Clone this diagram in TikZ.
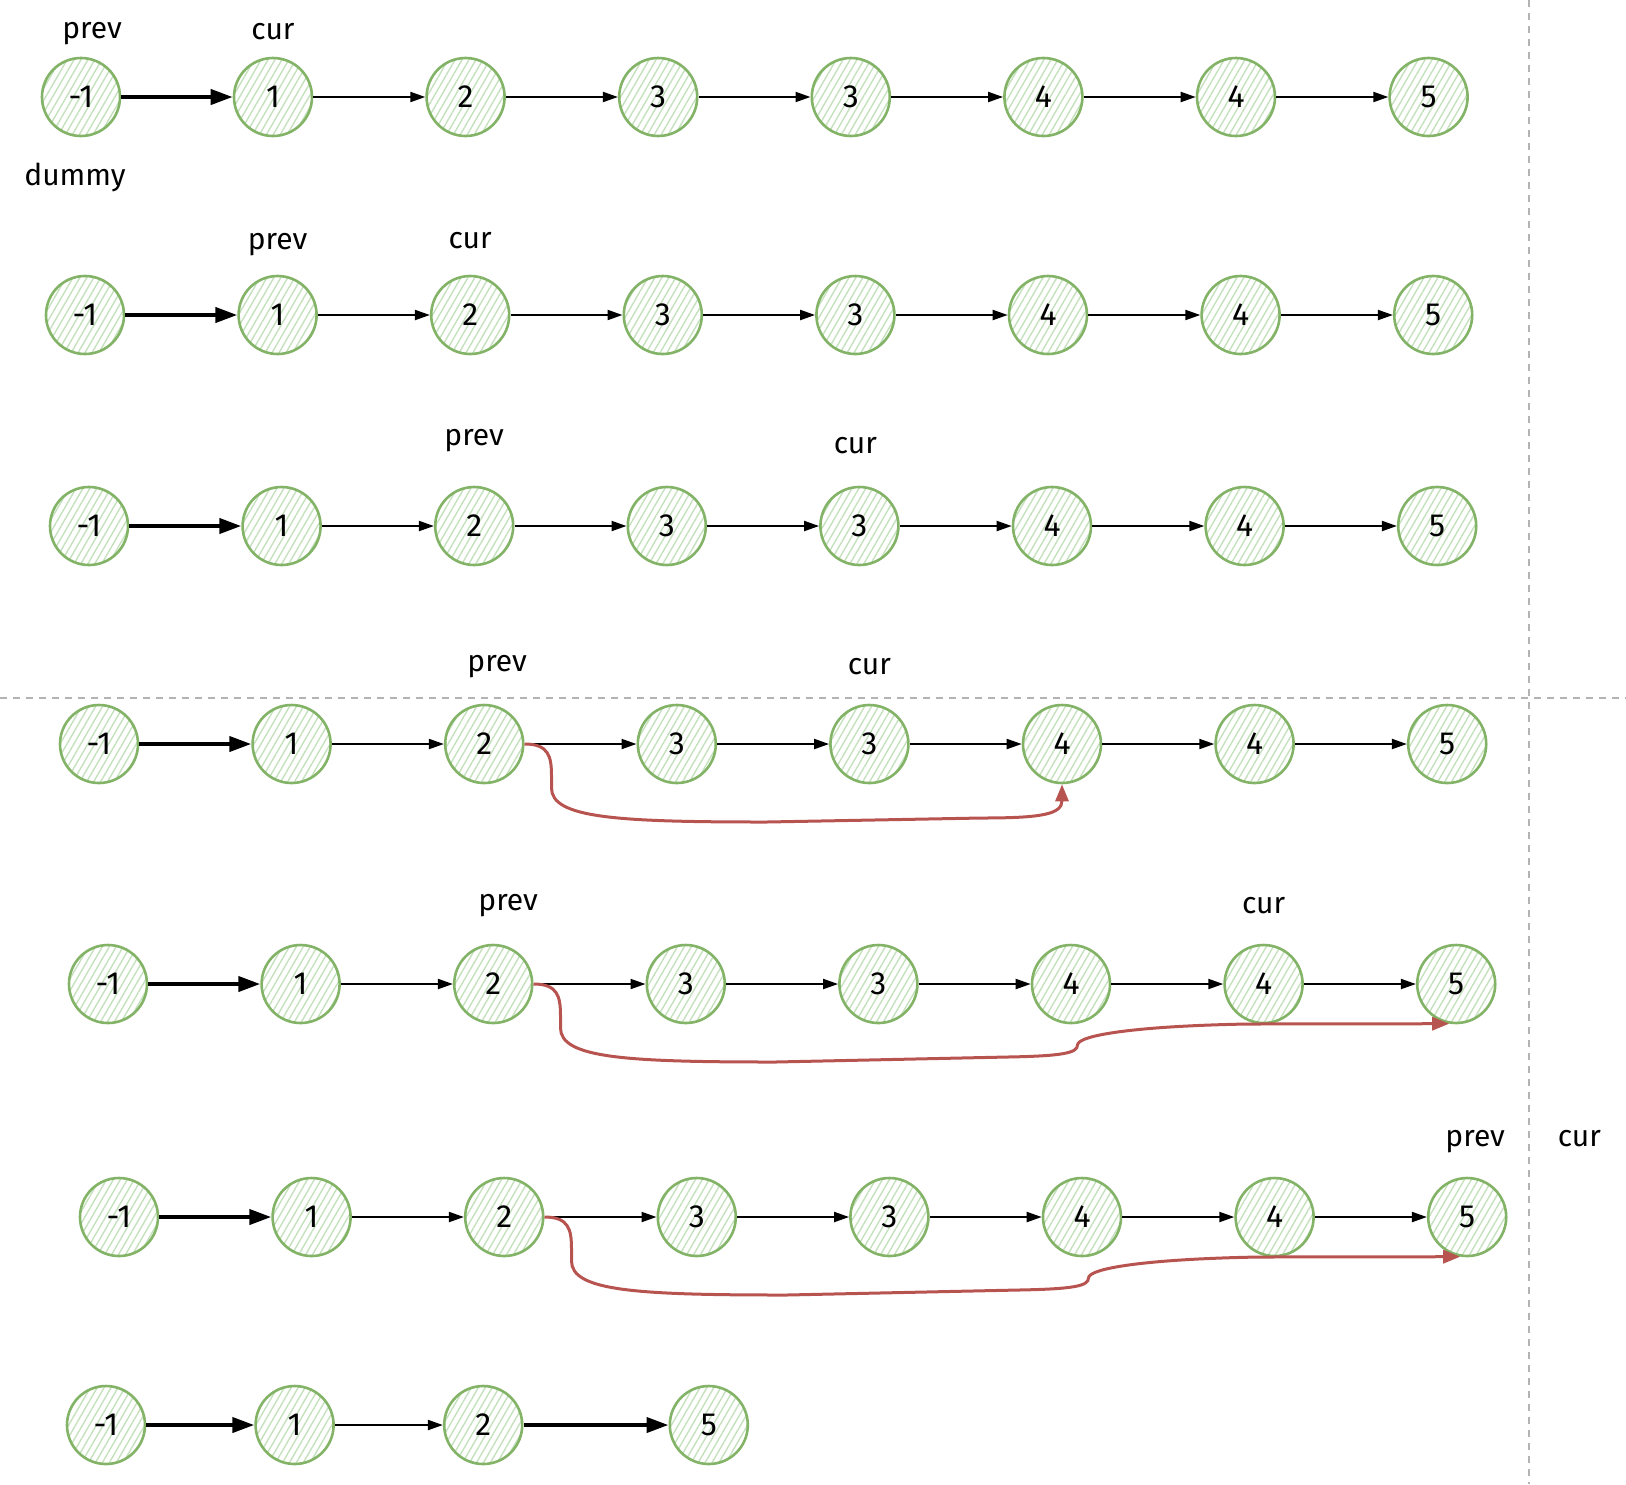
\documentclass[tikz,border=0pt]{standalone}
\usepackage{fontspec}
\setmainfont{Fira Sans}
\usetikzlibrary{positioning,arrows.meta,patterns.meta}
\definecolor{nodegreen}{HTML}{82B366}
\definecolor{hatchgreen}{HTML}{C4E0BD}
\definecolor{linkred}{HTML}{B85450}
\definecolor{sepgray}{HTML}{B3B3B3}

\begin{document}
\begin{tikzpicture}[x=0.5pt, y=-0.5pt, node distance=56pt,
		elem/.style={circle, draw=nodegreen, line width=1.3pt, minimum size=39pt, inner sep=0pt,
			pattern={Lines[angle=60, distance=3pt, line width=0.7pt]}, pattern color=hatchgreen,
			font=\fontsize{16}{16}\selectfont},
		tag/.style={inner sep=0pt, text height=1ex, text depth=0.45ex, font=\fontsize{15}{15}\selectfont},
		next/.style={-{Triangle[length=7.5pt, width=5pt]}, line width=1pt},
		head/.style={-{Triangle[length=11pt, width=7.5pt]}, line width=2pt},
		skip/.style={-{Triangle[length=8.5pt, width=6.5pt]}, draw=linkred, line width=1.5pt},
		sep/.style={draw=sepgray, line width=1pt, dash pattern=on 3.5pt off 3pt}]

		\useasboundingbox (0,0) rectangle (1626,1484);

		% separators
		\draw [sep] (0,698) -- (1626,698);
		\draw [sep] (1529,0) -- (1529,1484);

		% row 1
		\node [elem] (a1) at (81,97) {-1};
		\node [elem, right=of a1] (a2) {1};
		\node [elem, right=of a2] (a3) {2};
		\node [elem, right=of a3] (a4) {3};
		\node [elem, right=of a4] (a5) {3};
		\node [elem, right=of a5] (a6) {4};
		\node [elem, right=of a6] (a7) {4};
		\node [elem, right=of a7] (a8) {5};
		\node [tag, above=7pt of a1, xshift=5.5pt] (pv1) {prev};
		\node [tag, above=6pt of a2] (cr1) {cur};
		\node [tag, below=19pt of a1, xshift=-3pt] (dm) {dummy};
		\draw (a1) edge [head] (a2)
			(a2) edge [next] (a3) (a3) edge [next] (a4) (a4) edge [next] (a5)
			(a5) edge [next] (a6) (a6) edge [next] (a7) (a7) edge [next] (a8);

		% row 2
		\node [elem] (b1) at (85,315) {-1};
		\node [elem, right=of b1] (b2) {1};
		\node [elem, right=of b2] (b3) {2};
		\node [elem, right=of b3] (b4) {3};
		\node [elem, right=of b4] (b5) {3};
		\node [elem, right=of b5] (b6) {4};
		\node [elem, right=of b6] (b7) {4};
		\node [elem, right=of b7] (b8) {5};
		\node [tag, above=10pt of b2] (pv2) {prev};
		\node [tag, above=10.5pt of b3] (cr2) {cur};
		\draw (b1) edge [head] (b2)
			(b2) edge [next] (b3) (b3) edge [next] (b4) (b4) edge [next] (b5)
			(b5) edge [next] (b6) (b6) edge [next] (b7) (b7) edge [next] (b8);

		% row 3
		\node [elem] (c1) at (89,526) {-1};
		\node [elem, right=of c1] (c2) {1};
		\node [elem, right=of c2] (c3) {2};
		\node [elem, right=of c3] (c4) {3};
		\node [elem, right=of c4] (c5) {3};
		\node [elem, right=of c5] (c6) {4};
		\node [elem, right=of c6] (c7) {4};
		\node [elem, right=of c7] (c8) {5};
		\node [tag, above=17.5pt of c3] (pv3) {prev};
		\node [tag, above=13.5pt of c5, xshift=-2pt] (cr3) {cur};
		\draw (c1) edge [head] (c2)
			(c2) edge [next] (c3) (c3) edge [next] (c4) (c4) edge [next] (c5)
			(c5) edge [next] (c6) (c6) edge [next] (c7) (c7) edge [next] (c8);

		% row 4
		\node [elem] (d1) at (99,744) {-1};
		\node [elem, right=of d1] (d2) {1};
		\node [elem, right=of d2] (d3) {2};
		\node [elem, right=of d3] (d4) {3};
		\node [elem, right=of d4] (d5) {3};
		\node [elem, right=of d5] (d6) {4};
		\node [elem, right=of d6] (d7) {4};
		\node [elem, right=of d7] (d8) {5};
		\node [tag, above=13.5pt of d3, xshift=6.5pt] (pv4) {prev};
		\node [tag, above=12pt of d5] (cr4) {cur};
		\draw (d1) edge [head] (d2)
			(d2) edge [next] (d3) (d3) edge [next] (d4) (d4) edge [next] (d5)
			(d5) edge [next] (d6) (d6) edge [next] (d7) (d7) edge [next] (d8);
		\draw [skip] (d3.east) .. controls +(24,0) and +(0,-20) .. ++(27,32) -- ++(0,12)
			.. controls +(0,30) and +(-150,0) .. ++(215,34) -- ++(215,-4)
			.. controls +(60,0) and +(0,30) .. (d6.south);

		% row 5
		\node [elem] (e1) at (108,984) {-1};
		\node [elem, right=of e1] (e2) {1};
		\node [elem, right=of e2] (e3) {2};
		\node [elem, right=of e3] (e4) {3};
		\node [elem, right=of e4] (e5) {3};
		\node [elem, right=of e5] (e6) {4};
		\node [elem, right=of e6] (e7) {4};
		\node [elem, right=of e7] (e8) {5};
		\node [tag, above=14pt of e3, xshift=7.5pt] (pv5) {prev};
		\node [tag, above=12.5pt of e7] (cr5) {cur};
		\draw (e1) edge [head] (e2)
			(e2) edge [next] (e3) (e3) edge [next] (e4) (e4) edge [next] (e5)
			(e5) edge [next] (e6) (e6) edge [next] (e7) (e7) edge [next] (e8);
		\draw [skip] (e3.east) .. controls +(24,0) and +(0,-20) .. ++(27,32) -- ++(0,12)
			.. controls +(0,30) and +(-150,0) .. ++(215,34) -- ++(232,-5)
			.. controls +(55,-1) and +(0,8) .. ++(70,-12)
			.. controls +(0,-10) and +(-110,2) .. ++(170,-21) -- (e8.260);

		% row 6
		\node [elem] (f1) at (119,1217) {-1};
		\node [elem, right=of f1] (f2) {1};
		\node [elem, right=of f2] (f3) {2};
		\node [elem, right=of f3] (f4) {3};
		\node [elem, right=of f4] (f5) {3};
		\node [elem, right=of f5] (f6) {4};
		\node [elem, right=of f6] (f7) {4};
		\node [elem, right=of f7] (f8) {5};
		\node [tag, above=12.5pt of f8, xshift=4pt] (pv6) {prev};
		\node [tag, right=26pt of pv6] (cr6) {cur};
		\draw (f1) edge [head] (f2)
			(f2) edge [next] (f3) (f3) edge [next] (f4) (f4) edge [next] (f5)
			(f5) edge [next] (f6) (f6) edge [next] (f7) (f7) edge [next] (f8);
		\draw [skip] (f3.east) .. controls +(24,0) and +(0,-20) .. ++(27,32) -- ++(0,12)
			.. controls +(0,30) and +(-150,0) .. ++(215,34) -- ++(232,-5)
			.. controls +(55,-1) and +(0,8) .. ++(70,-12)
			.. controls +(0,-10) and +(-110,2) .. ++(170,-21) -- (f8.260);

		% row 7
		\node [elem] (g1) at (106,1425) {-1};
		\node [elem, right=54pt of g1] (g2) {1};
		\node [elem, right=54pt of g2] (g3) {2};
		\node [elem, right=72.5pt of g3] (g4) {5};
		\draw (g1) edge [head] (g2)
			(g2) edge [next] (g3)
			(g3) edge [head] (g4);
\end{tikzpicture}
\end{document}
